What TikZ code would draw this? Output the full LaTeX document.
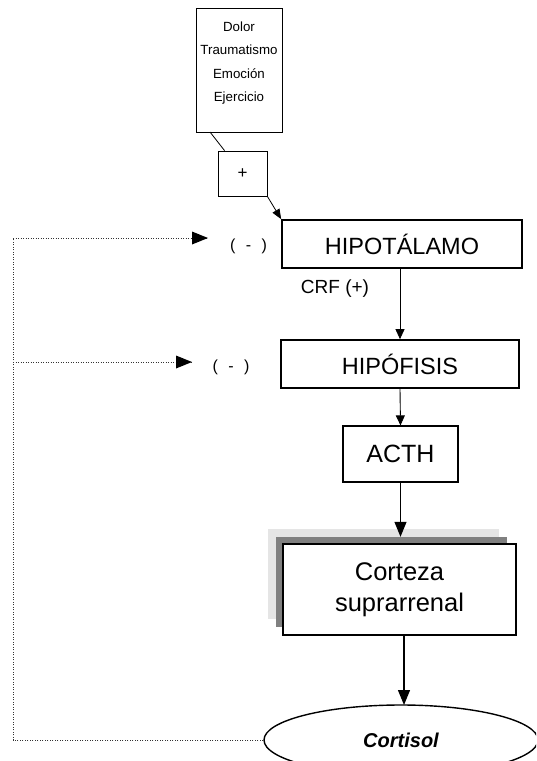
\documentclass[tikz,border=0pt]{standalone}
\usepackage{fontspec}
\setmainfont{Liberation Sans}
\usetikzlibrary{arrows.meta,shapes.geometric,calc}
\begin{document}
\begin{tikzpicture}[x=1pt,y=-1pt,
  stagebox/.style={draw, line width=1.7pt, inner sep=0pt, align=center},
  thinbox/.style={draw, line width=0.8pt, inner sep=0pt, align=center},
  flow/.style={line width=0.9pt, -{Triangle[length=10pt,width=9pt]}},
  bigflow/.style={line width=1.2pt, -{Triangle[length=15pt,width=12pt]}},
  feedback/.style={line width=0.9pt, dash pattern=on 0.9pt off 1.6pt, draw=black!80},
  sign/.style={font=\fontsize{16}{18}\selectfont, inner sep=0pt}]
\useasboundingbox (0,0) rectangle (536,761);
\clip (0,0) rectangle (536,761);

% stimuli
\node[thinbox, minimum width=86pt, minimum height=124pt] (stim) at (239,70) {};
\node[align=center, inner sep=0pt, font=\fontsize{13.3}{23.5}\selectfont]
  (stimText) at (239,63) {Dolor\\Traumatismo\\Emoción\\Ejercicio};
\node[thinbox, minimum width=49pt, minimum height=45pt, fill=white,
      font=\fontsize{17}{19}\selectfont] (plus) at (242.5,173.5) {+};

% axis
\node[stagebox, minimum width=240pt, minimum height=48pt,
      font=\fontsize{23.5}{26}\selectfont] (hipo) at (402,244) {HIPOTÁLAMO};
\node[stagebox, minimum width=238pt, minimum height=48pt,
      font=\fontsize{23.5}{26}\selectfont] (hipof) at (400,364) {HIPÓFISIS};
\node[thinbox, line width=1.2pt, minimum width=115pt, minimum height=56pt,
      font=\fontsize{25}{28}\selectfont] (acth) at (400.5,454) {ACTH};

% adrenal cortex with stacked shadows
\node[fill=black!10, minimum width=231pt, minimum height=90pt, inner sep=0pt]
  (shadowA) at (383.5,574) {};
\node[fill=black!50, minimum width=231pt, minimum height=90pt, inner sep=0pt]
  (shadowB) at (391.5,582) {};
\node[stagebox, line width=2pt, fill=white, minimum width=233pt, minimum height=91pt,
      font=\fontsize{25.5}{31}\selectfont] (cortex) at (399.5,589.5)
  {Corteza\\suprarrenal};

\node[draw, ellipse, line width=1.4pt, minimum width=274pt, minimum height=70pt,
      inner sep=0pt, font=\fontsize{20}{22}\selectfont\bfseries\itshape]
  (cortisol) at (401,740) {Cortisol};

% labels
\node[font=\fontsize{19}{21}\selectfont, inner sep=0pt] (crf) at (335,289) {CRF (+)};
\node[sign] (negA) at (248.5,246) {(\hspace{10.5pt}-\hspace{10.5pt})};
\node[sign] (negB) at (231,367) {(\hspace{10.5pt}-\hspace{10.5pt})};

% stimulus path
\coordinate (stimOut) at (210,132);
\draw[line width=0.8pt] (stimOut) -- (plus);
\draw[line width=0.8pt, -{Triangle[length=10pt,width=8pt]}] (plus.south east) -- (hipo.north west);

% hormonal cascade
\draw[flow] (hipof.north |- hipo.south) -- (hipof.north);
\draw[flow] (hipof.south) -- (acth.north);
\draw[bigflow] (acth.south) -- (acth.south |- shadowB.north);
\draw[bigflow] (cortex.south -| 404,0) -- (404,705);

% negative feedback loop
\coordinate (fbCorner) at (13,740);
\coordinate (fbTop) at (13,238);
\coordinate (inhA) at (208,238);
\coordinate (inhB) at (192,362);
\draw[feedback] (cortisol.west) -- (fbCorner) -- (fbTop) -- (inhA);
\draw[feedback] (fbCorner |- inhB) -- (inhB);
\fill (inhA) -- ++(-16,-6.5) -- ++(0,13) -- cycle;
\fill (inhB) -- ++(-16,-6.5) -- ++(0,13) -- cycle;
\end{tikzpicture}
\end{document}
